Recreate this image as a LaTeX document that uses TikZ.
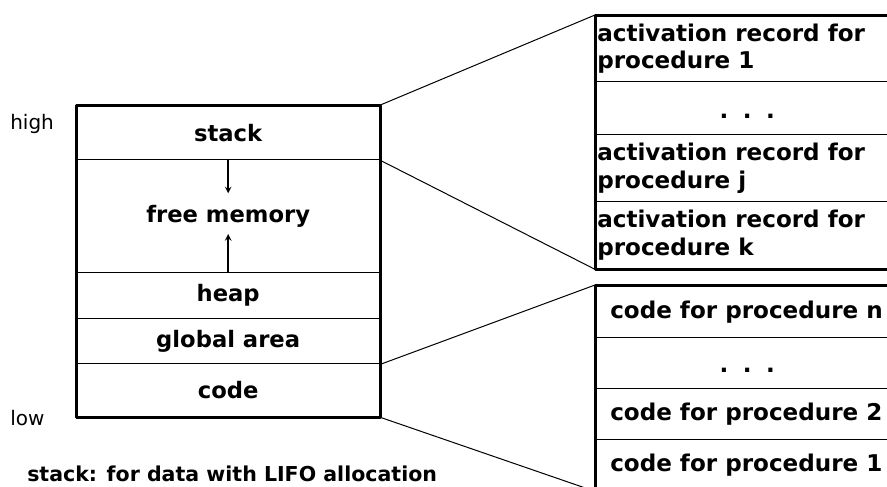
\documentclass[tikz,border=0pt]{standalone}
\usepackage{fontspec}
\setmainfont{DejaVu Sans}
\usetikzlibrary{positioning}
\begin{document}
\begin{tikzpicture}[line cap=round,line join=round,>=stealth,x=0.75pt,y=-0.75pt,
	cell/.style={draw,line width=1pt,inner sep=0pt,anchor=north west,minimum width=227.25pt,font=\fontsize{17}{20.5}\selectfont\bfseries},
	txt/.style={inner sep=0pt,align=left,font=\fontsize{17.3}{20.5}\selectfont\bfseries},
	frame/.style={line width=2.25pt},
	link/.style={line width=0.75pt}]
	\useasboundingbox (0,0) rectangle (887,486);
	\clip (0,0) rectangle (887,486);
	% memory layout
	\node[cell,minimum height=40.5pt] (stack) at (76,105) {stack};
	\node[cell,minimum height=84.75pt] (free) at (76,159) {free memory};
	\node[cell,minimum height=34.5pt] (heap) at (76,272) {heap};
	\node[cell,minimum height=33.75pt] (global) at (76,318) {global area};
	\node[cell,minimum height=39.75pt] (code) at (76,363) {code};
	\draw[frame] (stack.north west) rectangle (code.south east);
	\draw[->,line width=1.2pt] (stack.south) -- ++(0,33);
	\draw[->,line width=1.2pt] (heap.north) -- ++(0,-38);
	\node[inner sep=0pt,anchor=base west,font=\fontsize{15}{18}\selectfont] (high) at (10,129) {high};
	\node[inner sep=0pt,anchor=base west,font=\fontsize{15}{18}\selectfont] (low) at (10,425) {low};
	% activation records
	\node[cell,minimum height=49.5pt] (ar1) at (595,15) {};
	\node[cell,minimum height=39.75pt] (ardots) at (595,81) {};
	\node[cell,minimum height=50.25pt] (arj) at (595,134) {};
	\node[cell,minimum height=50.25pt] (ark) at (595,201) {};
	\draw[frame] (ar1.north west) rectangle (ark.south east);
	\node[txt,anchor=west] at ([xshift=1.5pt]ar1.west) {activation record for\\procedure 1};
	\node[txt] at ([yshift=-6pt]ardots.center) {.\hspace{.63em}.\hspace{.63em}.};
	\node[txt,anchor=west] at ([xshift=1.5pt]arj.west) {activation record for\\procedure j};
	\node[txt,anchor=west] at ([xshift=1.5pt]ark.west) {activation record for\\procedure k};
	% code segments
	\node[cell,minimum height=39pt] (cpn) at (595,285) {};
	\node[cell,minimum height=38.25pt] (cpdots) at (595,337) {};
	\node[cell,minimum height=38.25pt] (cp2) at (595,388) {};
	\node[cell,minimum height=38.25pt] (cp1) at (595,439) {};
	\draw[frame] (cpn.north west) rectangle (cp1.south east);
	\node[txt,anchor=west] at ([xshift=11.25pt]cpn.west) {code for procedure n};
	\node[txt] at ([yshift=-5pt]cpdots.center) {.\hspace{.63em}.\hspace{.63em}.};
	\node[txt,anchor=west] at ([xshift=11.25pt]cp2.west) {code for procedure 2};
	\node[txt,anchor=west] at ([xshift=11.25pt]cp1.west) {code for procedure 1};
	% zoom lines
	\draw[link] (stack.north east) -- (ar1.north west);
	\draw[link] (stack.south east) -- (ark.south west);
	\draw[link] (global.south east) -- (cpn.north west);
	\draw[link] (code.south east) -- (cp1.south west);
	\node[txt,anchor=base west,font=\fontsize{15.4}{18}\selectfont\bfseries] (note) at (27,481) {stack: for data with LIFO allocation};
\end{tikzpicture}
\end{document}
